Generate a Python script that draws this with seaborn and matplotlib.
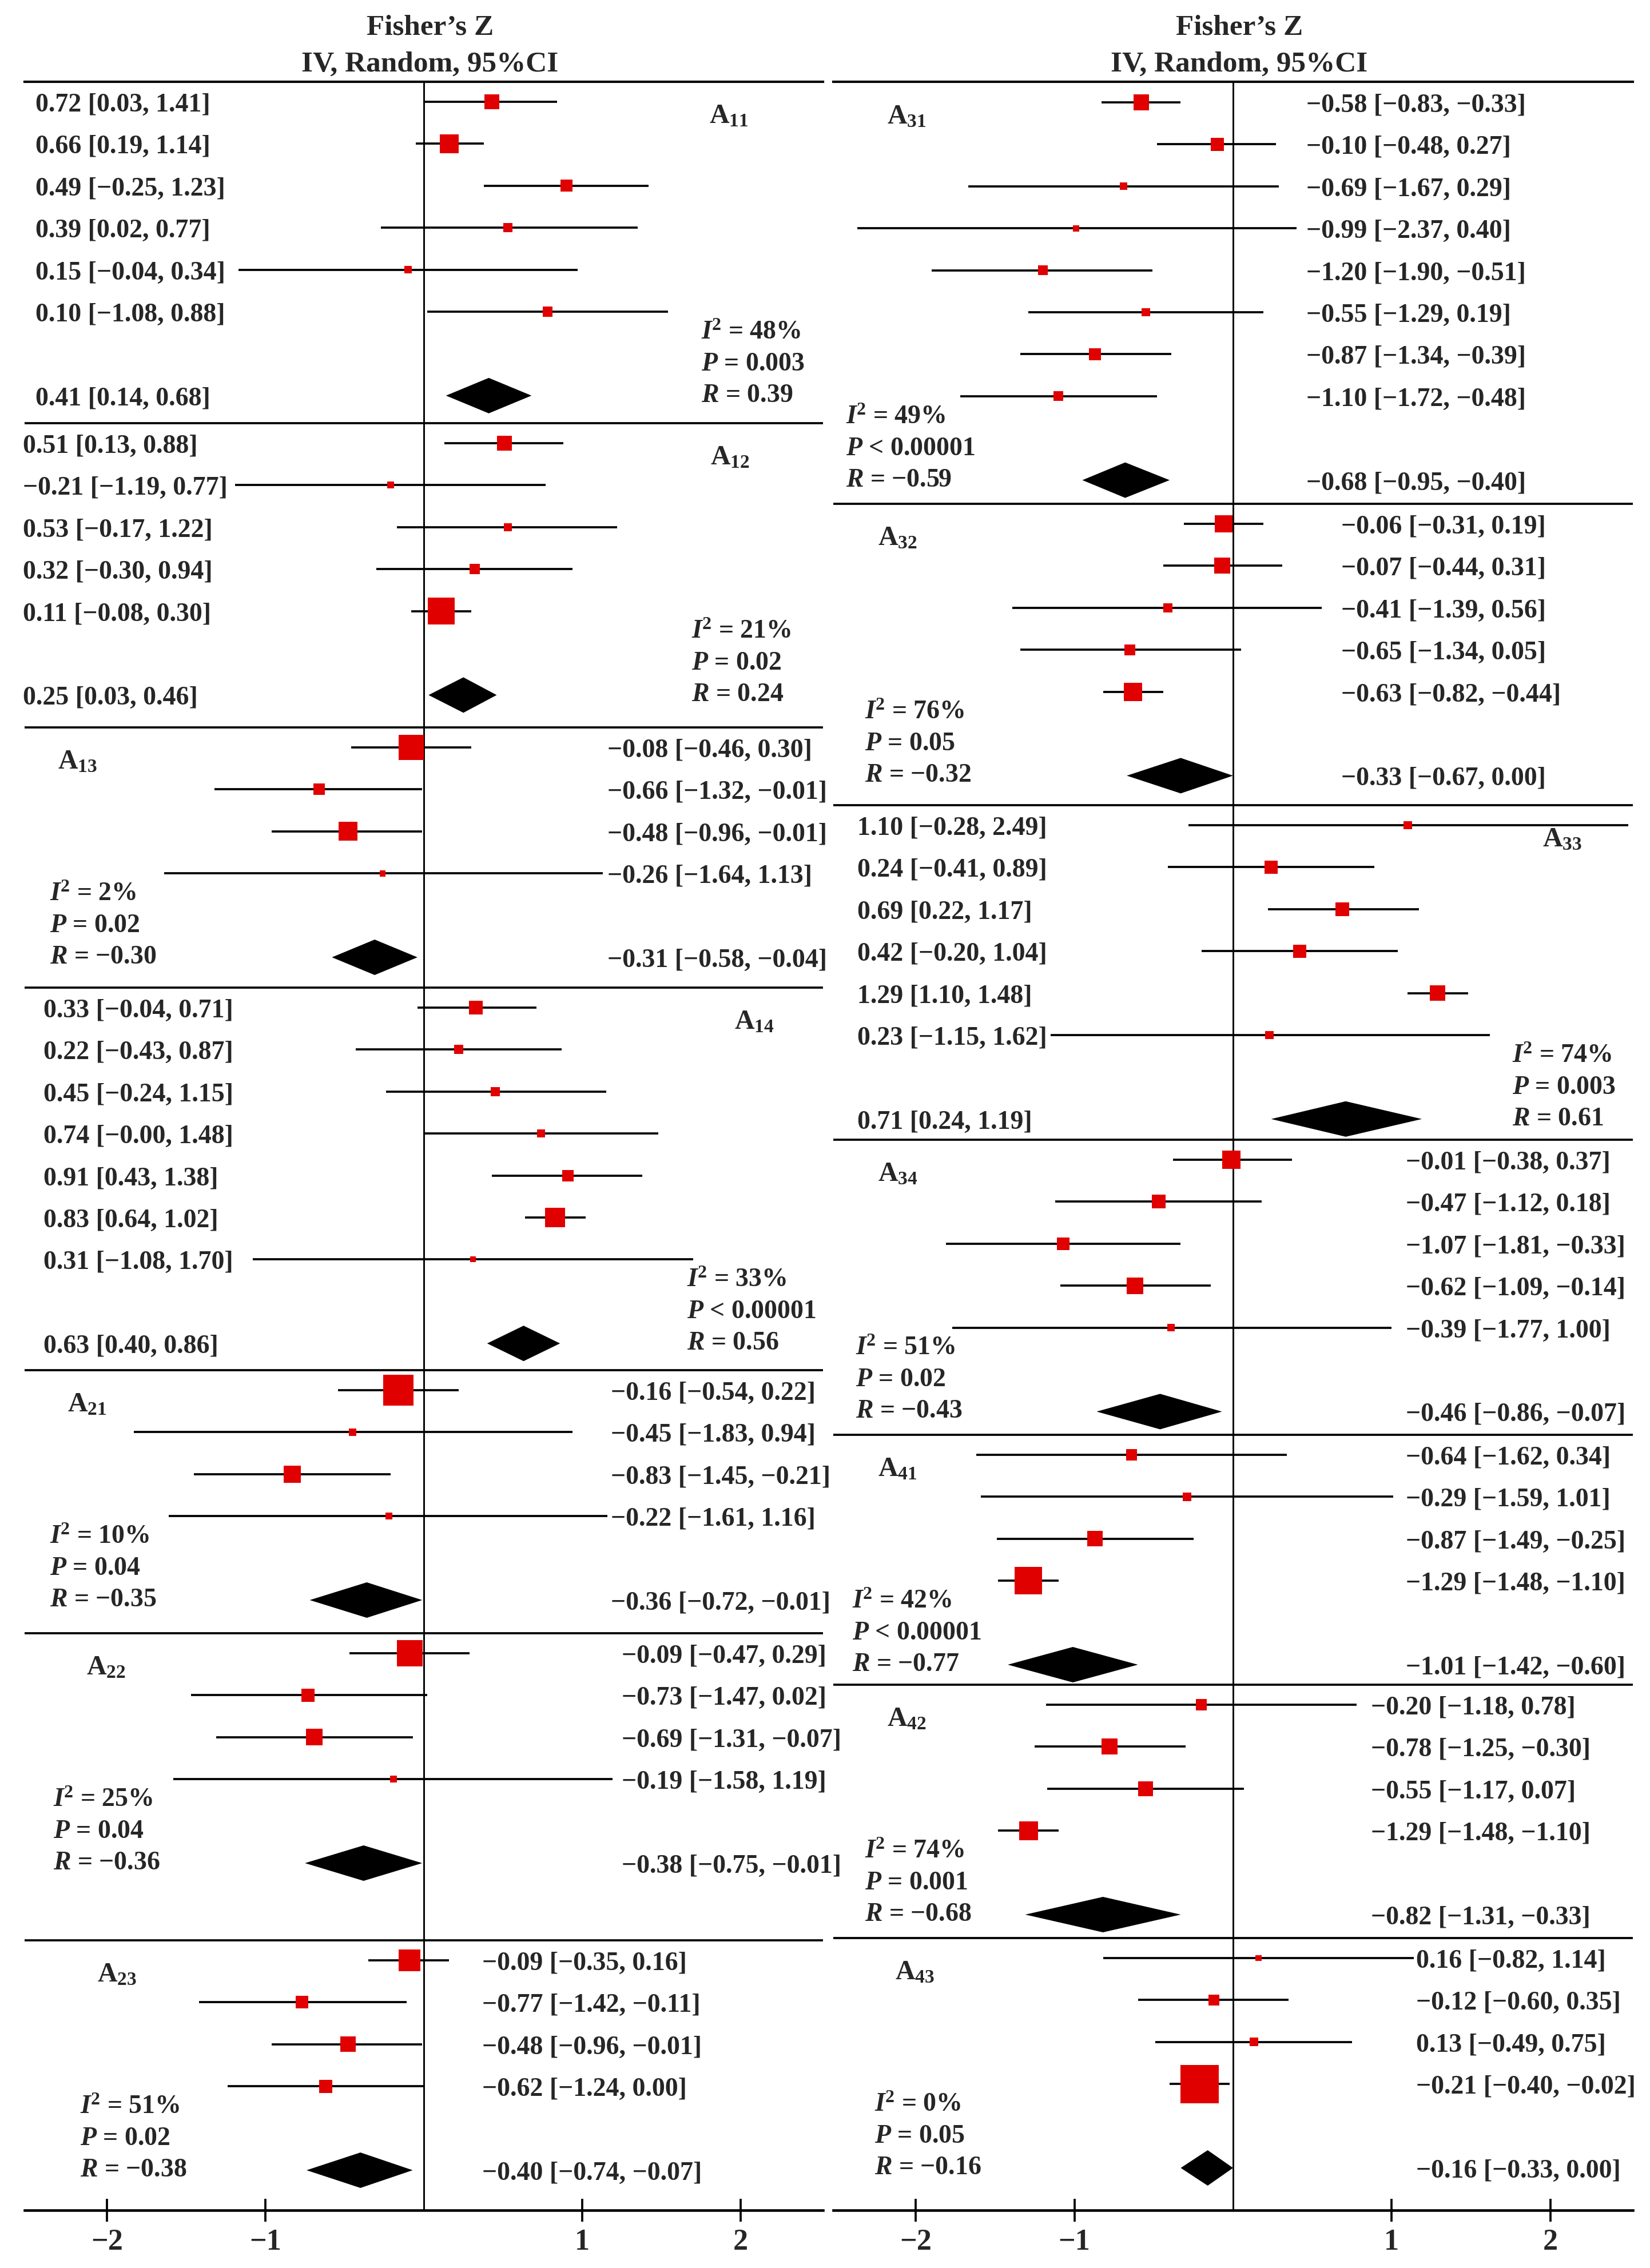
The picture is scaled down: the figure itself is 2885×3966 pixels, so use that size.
import matplotlib
matplotlib.use("Agg")
import numpy as np
import pandas as pd
import matplotlib.pyplot as plt
import seaborn as sns

# ---------------- data ----------------
# left column: groups A11 .. A23
left_groups = ["11", "12", "13", "14", "21", "22", "23"]
left_n = [6, 5, 4, 7, 4, 4, 4]
left_est = [0.72, 0.66, 0.49, 0.39, 0.15, 0.10,
            0.51, -0.21, 0.53, 0.32, 0.11,
            -0.08, -0.66, -0.48, -0.26,
            0.33, 0.22, 0.45, 0.74, 0.91, 0.83, 0.31,
            -0.16, -0.45, -0.83, -0.22,
            -0.09, -0.73, -0.69, -0.19,
            -0.09, -0.77, -0.48, -0.62]
left_lo = [0.03, 0.19, -0.25, 0.02, -0.04, -1.08,
           0.13, -1.19, -0.17, -0.30, -0.08,
           -0.46, -1.32, -0.96, -1.64,
           -0.04, -0.43, -0.24, -0.0, 0.43, 0.64, -1.08,
           -0.54, -1.83, -1.45, -1.61,
           -0.47, -1.47, -1.31, -1.58,
           -0.35, -1.42, -0.96, -1.24]
left_hi = [1.41, 1.14, 1.23, 0.77, 0.34, 0.88,
           0.88, 0.77, 1.22, 0.94, 0.30,
           0.30, -0.01, -0.01, 1.13,
           0.71, 0.87, 1.15, 1.48, 1.38, 1.02, 1.70,
           0.22, 0.94, -0.21, 1.16,
           0.29, 0.02, -0.07, 1.19,
           0.16, -0.11, -0.01, 0.00]
left_w = [13.0, 21.0, 8.5, 4.9, 3.3, 5.6,
          13.0, 2.8, 3.8, 6.3, 42.6,
          37.3, 7.7, 21.0, 2.3,
          11.1, 4.9, 4.9, 3.8, 7.7, 23.6, 1.9,
          54.2, 3.3, 17.4, 2.8,
          39.1, 10.2, 16.2, 2.8,
          27.9, 9.3, 14.1, 10.2]
# in the A11 block the squares are drawn where the picture shows them,
# which is not where the printed numbers say
a11_drawn_est = [0.43, 0.16, 0.90, 0.53, -0.10, 0.78]
a11_drawn_lo = [0.00, -0.05, 0.38, -0.27, -1.17, 0.02]
a11_drawn_hi = [0.84, 0.38, 1.42, 1.35, 0.97, 1.54]

left_sum_est = [0.41, 0.25, -0.31, 0.63, -0.36, -0.38, -0.40]
left_sum_lo = [0.14, 0.03, -0.58, 0.40, -0.72, -0.75, -0.74]
left_sum_hi = [0.68, 0.46, -0.04, 0.86, -0.01, -0.01, -0.07]
left_i2 = [48, 21, 2, 33, 10, 25, 51]
left_p = ["= 0.003", "= 0.02", "= 0.02", "< 0.00001", "= 0.04", "= 0.04", "= 0.02"]
left_r = [0.39, 0.24, -0.30, 0.56, -0.35, -0.36, -0.38]

# right column: groups A31 .. A43
right_groups = ["31", "32", "33", "34", "41", "42", "43"]
right_n = [8, 5, 6, 5, 4, 4, 4]
right_est = [-0.58, -0.10, -0.69, -0.99, -1.20, -0.55, -0.87, -1.10,
             -0.06, -0.07, -0.41, -0.65, -0.63,
             1.10, 0.24, 0.69, 0.42, 1.29, 0.23,
             -0.01, -0.47, -1.07, -0.62, -0.39,
             -0.64, -0.29, -0.87, -1.29,
             -0.20, -0.78, -0.55, -1.29,
             0.16, -0.12, 0.13, -0.21]
right_lo = [-0.83, -0.48, -1.67, -2.37, -1.90, -1.29, -1.34, -1.72,
            -0.31, -0.44, -1.39, -1.34, -0.82,
            -0.28, -0.41, 0.22, -0.20, 1.10, -1.15,
            -0.38, -1.12, -1.81, -1.09, -1.77,
            -1.62, -1.59, -1.49, -1.48,
            -1.18, -1.25, -1.17, -1.48,
            -0.82, -0.60, -0.49, -0.40]
right_hi = [-0.33, 0.27, 0.29, 0.40, -0.51, 0.19, -0.39, -0.48,
            0.19, 0.31, 0.56, 0.05, -0.44,
            2.49, 0.89, 1.17, 1.04, 1.48, 1.62,
            0.37, 0.18, -0.33, -0.14, 1.00,
            0.34, 1.01, -0.25, -1.10,
            0.78, -0.30, 0.07, -1.10,
            1.14, 0.35, 0.75, -0.02]
right_w = [14.1, 10.2, 3.3, 2.3, 5.6, 4.3, 8.5, 5.6,
           18.5, 15.1, 4.9, 7.0, 19.8,
           4.3, 10.2, 11.1, 10.2, 14.1, 4.3,
           19.8, 11.1, 9.3, 16.2, 3.3,
           7.0, 4.3, 14.1, 44.4,
           7.0, 15.1, 13.0, 21.0,
           2.3, 7.0, 4.3, 86.6]
right_sum_est = [-0.68, -0.33, 0.71, -0.46, -1.01, -0.82, -0.16]
right_sum_lo = [-0.95, -0.67, 0.24, -0.86, -1.42, -1.31, -0.33]
right_sum_hi = [-0.40, 0.00, 1.19, -0.07, -0.60, -0.33, 0.00]
right_i2 = [49, 76, 74, 51, 42, 74, 0]
right_p = ["< 0.00001", "= 0.05", "= 0.003", "= 0.02", "< 0.00001", "= 0.001", "= 0.05"]
right_r = [-0.59, -0.32, 0.61, -0.43, -0.77, -0.68, -0.16]

x_ticks = [-2, -1, 1, 2]

# ---------------- layout (pixels from the top, x in axis units) ----------------
W, H = 2886, 3966
Y_TOP, Y_AXIS = 143, 3865
STEP = 73.4
FIRST = 35
STAT_GAP = 55
DIAMOND_H = 31
TEXT_DY = 6

left_tops = [143, 740, 1272, 1727, 2396, 2856, 3393]
right_tops = [144, 881, 1408, 1993, 2509, 2946, 3389]
left_label_x = [-2.45, -2.53, 1.16, -2.40, 1.18, 1.25, 0.37]
right_label_x = [0.46, 0.68, -2.37, 1.09, 1.09, 0.87, 1.155]
left_name_x = [1.80, 1.81, -2.31, 1.96, -2.25, -2.13, -2.06]
right_name_x = [-2.18, -2.24, 1.95, -2.24, -2.24, -2.18, -2.13]
left_stat_x = [1.75, 1.69, -2.36, 1.66, -2.36, -2.34, -2.17]
right_stat_x = [-2.44, -2.32, 1.76, -2.38, -2.40, -2.32, -2.26]

RED = "#E00000"
FS = 11

sns.set_theme(style="white")
plt.rcParams["font.family"] = ["Liberation Serif", "DejaVu Serif"]
plt.rcParams["font.weight"] = "bold"
plt.rcParams["mathtext.fontset"] = "custom"
plt.rcParams["mathtext.rm"] = "Liberation Serif:bold"
plt.rcParams["mathtext.bf"] = "Liberation Serif:bold"
plt.rcParams["mathtext.it"] = "Liberation Serif:italic:bold"
plt.rcParams["mathtext.bfit"] = "Liberation Serif:italic:bold"


def fmt(v):
    return f"{v:.2f}".replace("-", "\u2212")


def ci_text(e, l, h):
    return f"{fmt(e)} [{fmt(l)}, {fmt(h)}]"


def draw_panel(ax, groups, n, est, lo, hi, w, s_est, s_lo, s_hi, i2, p, r,
               tops, label_x, name_x, stat_x, d_est, d_lo, d_hi):
    ys, sum_y, first_y, gid = [], [], [], []
    for g, (top, k) in enumerate(zip(tops, n)):
        f = top + FIRST
        first_y.append(f)
        ys += [f + i * STEP for i in range(k)]
        gid += [g] * k
        sum_y.append(f + (k + 1) * STEP)

    ax.axvline(0, color="black", lw=0.7, zorder=1)
    for t in tops[1:]:
        ax.axhline(t, color="black", lw=0.9, zorder=1)

    ax.hlines(ys, d_lo, d_hi, color="black", lw=0.9, zorder=2)
    s = np.array(w) * 2.986
    df = pd.DataFrame({"x": d_est, "y": ys, "s": s})
    sns.scatterplot(data=df, x="x", y="y", size="s", sizes=(s.min(), s.max()),
                    size_norm=(s.min(), s.max()), marker="s", color=RED,
                    linewidth=0, legend=False, ax=ax, zorder=3)

    for g in range(len(groups)):
        y = sum_y[g]
        ax.fill([s_lo[g], s_est[g], s_hi[g], s_est[g]],
                [y, y - DIAMOND_H, y, y + DIAMOND_H], color="black", lw=0, zorder=3)
        ax.text(label_x[g], y + TEXT_DY, ci_text(s_est[g], s_lo[g], s_hi[g]),
                ha="left", va="center", fontsize=FS)
        ax.text(name_x[g], first_y[g] + 0.35 * STEP,
                rf"$\mathbf{{A}}_{{\mathbf{{{groups[g]}}}}}$",
                ha="left", va="center", fontsize=11.5)
        ax.text(stat_x[g], y - 2 * STAT_GAP,
                rf"$\mathbfit{{I}}^{{\mathbf{{2}}}}$ = {i2[g]}%",
                ha="left", va="center", fontsize=FS)
        ax.text(stat_x[g], y - STAT_GAP, rf"$\mathbfit{{P}}$ {p[g]}",
                ha="left", va="center", fontsize=FS)
        ax.text(stat_x[g], y, rf"$\mathbfit{{R}}$ = {fmt(r[g])}",
                ha="left", va="center", fontsize=FS)

    for i, y in enumerate(ys):
        ax.text(label_x[gid[i]], y + TEXT_DY, ci_text(est[i], lo[i], hi[i]),
                ha="left", va="center", fontsize=FS, zorder=4)

    ax.text(0.04, 49, "Fisher\u2019s Z", ha="center", va="center", fontsize=12.3)
    ax.text(0.04, 113, "IV, Random, 95%CI", ha="center", va="center", fontsize=12.3)

    ax.set_xlim(-2.52, 2.52)
    ax.set_ylim(Y_AXIS, Y_TOP)
    ax.set_xlabel("")
    ax.set_ylabel("")
    ax.set_yticks([])
    ax.set_xticks(x_ticks)
    ax.set_xticklabels([fmt(t)[:-3] for t in x_ticks], fontsize=12.5, fontweight="bold")
    ax.tick_params(axis="x", direction="inout", length=9.6, width=0.9,
                   color="black", pad=3, bottom=True)
    for side in ["left", "right"]:
        ax.spines[side].set_visible(False)
    ax.spines["top"].set_linewidth(1.0)
    ax.spines["bottom"].set_linewidth(1.1)
    ax.spines["top"].set_color("black")
    ax.spines["bottom"].set_color("black")
    ax.patch.set_alpha(0)


fig = plt.figure(figsize=(W / 300, H / 300), dpi=300)
bottom = 1 - Y_AXIS / H
height = (Y_AXIS - Y_TOP) / H
ax_l = fig.add_axes([43 / W, bottom, 1396 / W, height])
ax_r = fig.add_axes([1457 / W, bottom, 1398 / W, height])

d_est = a11_drawn_est + left_est[6:]
d_lo = a11_drawn_lo + left_lo[6:]
d_hi = a11_drawn_hi + left_hi[6:]
draw_panel(ax_l, left_groups, left_n, left_est, left_lo, left_hi, left_w,
           left_sum_est, left_sum_lo, left_sum_hi, left_i2, left_p, left_r,
           left_tops, left_label_x, left_name_x, left_stat_x, d_est, d_lo, d_hi)
draw_panel(ax_r, right_groups, right_n, right_est, right_lo, right_hi, right_w,
           right_sum_est, right_sum_lo, right_sum_hi, right_i2, right_p, right_r,
           right_tops, right_label_x, right_name_x, right_stat_x,
           right_est, right_lo, right_hi)

fig.savefig("out.png", dpi=300)
